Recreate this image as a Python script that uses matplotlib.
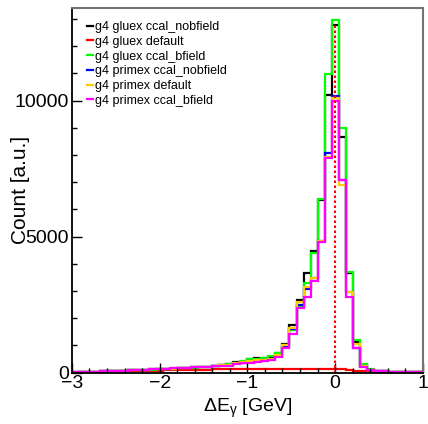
import numpy as np
import matplotlib
matplotlib.use("Agg")
import matplotlib.pyplot as plt
from matplotlib.ticker import MultipleLocator

plt.rcParams['font.family'] = ['Liberation Sans', 'DejaVu Sans']
plt.rcParams['mathtext.fontset'] = 'custom'
plt.rcParams['mathtext.rm'] = 'Liberation Sans'
plt.rcParams['mathtext.it'] = 'Liberation Sans'
plt.rcParams['mathtext.default'] = 'regular'

# 50 bins from -3 to 1 GeV
edges = np.linspace(-3, 1, 51)

labels = ["g4 gluex ccal_nobfield", "g4 gluex default", "g4 gluex ccal_bfield",
          "g4 primex ccal_nobfield", "g4 primex default", "g4 primex ccal_bfield"]
colors = ["black", "#ff0000", "#00ff00", "#0000ff", "#ffcc00", "#ff00ff"]

gluex_nobfield = [5, 15, 25, 35, 45, 55, 65, 75, 85, 95, 105, 115, 125,
                  135, 145, 165, 180, 190, 205, 220, 240, 285, 310, 380, 405, 490, 530, 550, 590, 735,
                  1055, 1755, 2670, 3655, 4485, 6350, 10210,
                  12780, 8650, 3655, 1115, 290, 110, 60, 45, 35, 25, 20, 15, 10]
gluex_default = [20, 25, 30, 35, 40, 45, 50, 55, 60, 65, 70, 75, 80,
                 85, 90, 95, 100, 105, 110, 115, 118, 120, 122, 124, 126, 128, 130, 132, 134, 136,
                 138, 140, 140, 140, 140, 140, 140,
                 140, 130, 110, 80, 60, 50, 45, 40, 40, 35, 35, 30, 30]
gluex_bfield = [5, 15, 25, 35, 45, 55, 65, 75, 85, 95, 105, 115, 120,
                130, 140, 160, 175, 185, 200, 215, 235, 275, 305, 370, 420, 500, 520, 545, 600, 720,
                1000, 1570, 2450, 3310, 4400, 6385, 10970,
                12965, 8985, 3715, 1200, 330, 130, 70, 50, 35, 25, 20, 15, 10]
primex_nobfield = [8, 18, 28, 38, 48, 58, 68, 78, 88, 98, 108, 118, 128,
                   140, 150, 170, 185, 195, 205, 220, 235, 270, 290, 340, 370, 420, 430, 450, 500, 620,
                   960, 1600, 2500, 3075, 3480, 4850, 8065,
                   10170, 7085, 2955, 900, 240, 110, 60, 45, 35, 25, 20, 15, 10]
primex_default = [8, 18, 28, 38, 48, 58, 68, 78, 88, 98, 108, 118, 128,
                  140, 150, 170, 185, 195, 210, 225, 240, 280, 300, 350, 380, 430, 450, 470, 520, 650,
                  1000, 1630, 2580, 3160, 3480, 4850, 7940,
                  10100, 6900, 2980, 1055, 260, 110, 60, 45, 35, 25, 20, 15, 10]
primex_bfield = [10, 20, 30, 40, 50, 60, 70, 80, 90, 100, 110, 120, 130,
                 145, 155, 175, 185, 200, 215, 225, 260, 245, 260, 310, 345, 370, 405, 430, 465, 565,
                 895, 1410, 2370, 2770, 3380, 4815, 7880,
                 9990, 7085, 2795, 895, 220, 100, 55, 45, 35, 25, 20, 15, 10]

series = [gluex_nobfield, gluex_default, gluex_bfield,
          primex_nobfield, primex_default, primex_bfield]

fig = plt.figure(figsize=(4.28, 4.24), dpi=100)
ax = fig.add_axes([0.168, 0.121, 0.82, 0.86])

for vals, col, lab in zip(series, colors, labels):
    ax.stairs(vals, edges, color=col, lw=1.6, label=lab)

# dotted line at zero up to the peak
ax.vlines(0, 0, max(gluex_nobfield), colors="#ff0000", linestyles=(0, (1.2, 1.2)), lw=1.5)

ax.set_xlim(-3, 1)
ax.set_ylim(0, 13400)
ax.xaxis.set_major_locator(MultipleLocator(1))
ax.xaxis.set_minor_locator(MultipleLocator(0.2))
ax.yaxis.set_major_locator(MultipleLocator(5000))
ax.yaxis.set_minor_locator(MultipleLocator(1000))
ax.tick_params(which="both", direction="in", top=False, right=False, labelsize=14, width=1)
ax.tick_params(which="major", length=7, pad=2)
ax.tick_params(which="minor", length=3.5)

for s in ["left", "bottom"]:
    ax.spines[s].set_linewidth(1.3)
for s in ["top", "right"]:
    ax.spines[s].set_color("0.45")
    ax.spines[s].set_linewidth(1.5)

ax.set_xlabel(r"$\Delta$E$_{\gamma}$ [GeV]", fontsize=14, labelpad=3)
ax.set_ylabel("Count [a.u.]", fontsize=15, labelpad=-11)

leg = ax.legend(loc="upper left", bbox_to_anchor=(0.03, 0.978), frameon=False,
                fontsize=9, handlelength=0.45, handletextpad=0.15,
                labelspacing=0.22, borderaxespad=0)

fig.savefig("out.png", dpi=100)
